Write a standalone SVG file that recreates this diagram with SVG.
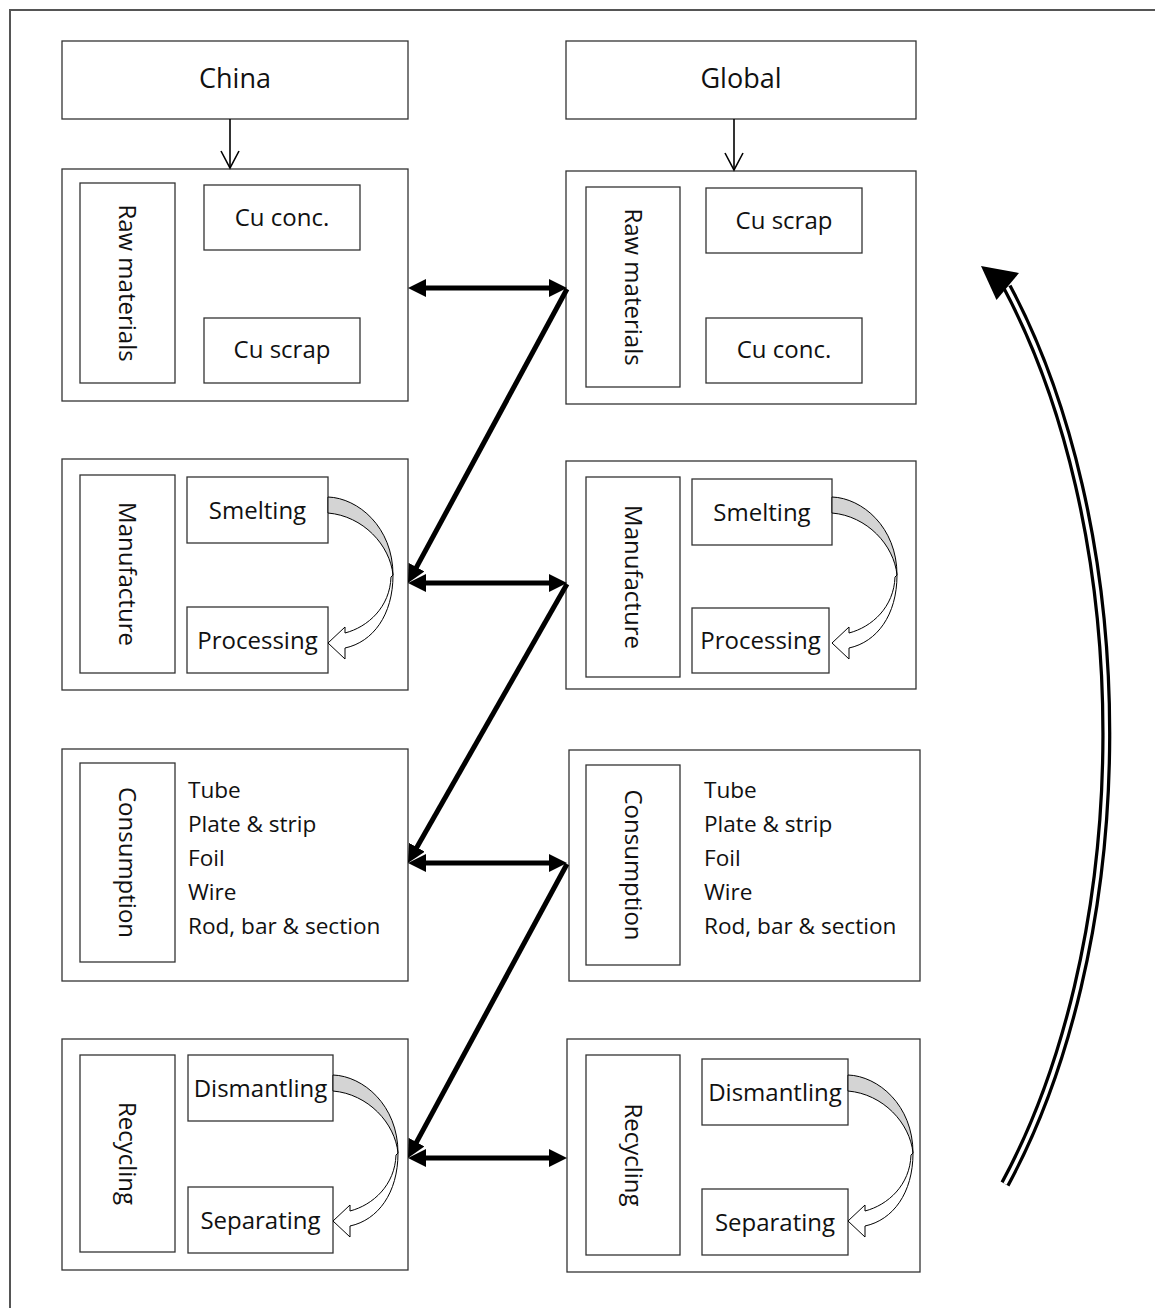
<svg xmlns="http://www.w3.org/2000/svg" width="1155" height="1308" viewBox="0 0 1155 1308">
<style>
.box{fill:#fff;stroke:#333;stroke-width:1.3}
.t{font-family:"Open Sans","Liberation Sans",sans-serif;font-size:24px;fill:#111;text-anchor:middle}
.ti{font-family:"Open Sans","Liberation Sans",sans-serif;font-size:27px;fill:#111;text-anchor:middle}
.l{font-family:"Open Sans","Liberation Sans",sans-serif;font-size:22.6px;fill:#111}
.con{stroke:#000;stroke-width:5;fill:none;marker-end:url(#ah)}
.dbl{marker-start:url(#ah)}
.thin{stroke:#000;stroke-width:1.6;fill:none;marker-end:url(#open)}
</style>
<defs>
<marker id="ah" viewBox="0 0 18 18" markerWidth="18" markerHeight="18" markerUnits="userSpaceOnUse" refX="6" refY="9" orient="auto-start-reverse"><path d="M0,0 L18,9 L0,18 Z" fill="#000"/></marker>
<marker id="open" viewBox="0 0 20 20" markerWidth="20" markerHeight="20" markerUnits="userSpaceOnUse" refX="18" refY="10" orient="auto"><path d="M1,1 L18,10 L1,19" fill="none" stroke="#000" stroke-width="1.6"/></marker>
<g id="curve">
<path d="M0,0 C30,1 65,30 65,78 C62,48 35,19 0,16 Z" fill="#d4d4d4" stroke="#000" stroke-width="1"/>
<path d="M65,78 C65,118 45,145 17,151 L17,162 L0,146 L17,130 L17,136 C40,130 62,110 63,80 Z" fill="#fff" stroke="#000" stroke-width="1"/>
</g>
</defs>
<rect width="1155" height="1308" fill="#fff"/>
<path d="M10,1308 L10,10 L1155,10" fill="none" stroke="#555" stroke-width="2"/>

<g id="china">
<rect class="box" x="62" y="41" width="346" height="78"/>
<text class="ti" x="235" y="88">China</text>
</g>
<g id="global">
<rect class="box" x="566" y="41" width="350" height="78"/>
<text class="ti" x="741" y="88">Global</text>
</g>

<g id="china-raw">
<rect class="box" x="62" y="169" width="346" height="232"/>
<rect class="box" x="80" y="183" width="95" height="200"/>
<text class="t" transform="translate(127.5,283) rotate(90)" y="8.5">Raw materials</text>
<rect class="box" x="204" y="185" width="156" height="65"/>
<text class="t" x="282" y="226">Cu conc.</text>
<rect class="box" x="204" y="318" width="156" height="65"/>
<text class="t" x="282" y="358">Cu scrap</text>
</g>
<g id="global-raw">
<rect class="box" x="566" y="171" width="350" height="233"/>
<rect class="box" x="586" y="187" width="94" height="200"/>
<text class="t" transform="translate(633,287) rotate(90)" y="8.5">Raw materials</text>
<rect class="box" x="706" y="188" width="156" height="65"/>
<text class="t" x="784" y="229">Cu scrap</text>
<rect class="box" x="706" y="318" width="156" height="65"/>
<text class="t" x="784" y="358">Cu conc.</text>
</g>

<g id="china-manufacture">
<rect class="box" x="62" y="459" width="346" height="231"/>
<rect class="box" x="80" y="475" width="95" height="198"/>
<text class="t" transform="translate(127.5,574) rotate(90)" y="8.5">Manufacture</text>
<rect class="box" x="187" y="477" width="141" height="66"/>
<text class="t" x="257.5" y="518.5">Smelting</text>
<rect class="box" x="187" y="607" width="141" height="66"/>
<text class="t" x="257.5" y="648.5">Processing</text>
<use href="#curve" x="328" y="497"/>
</g>
<g id="global-manufacture">
<rect class="box" x="566" y="461" width="350" height="228"/>
<rect class="box" x="586" y="477" width="94" height="200"/>
<text class="t" transform="translate(633,577) rotate(90)" y="8.5">Manufacture</text>
<rect class="box" x="692" y="479" width="140" height="66"/>
<text class="t" x="762" y="520.5">Smelting</text>
<rect class="box" x="692" y="608" width="137" height="65"/>
<text class="t" x="760.5" y="649">Processing</text>
<use href="#curve" x="832" y="497"/>
</g>

<g id="china-consumption">
<rect class="box" x="62" y="749" width="346" height="232"/>
<rect class="box" x="80" y="763" width="95" height="199"/>
<text class="t" transform="translate(127.5,862.5) rotate(90)" y="8.5">Consumption</text>
<text class="l" x="188" y="798">Tube</text>
<text class="l" x="188" y="832">Plate &amp; strip</text>
<text class="l" x="188" y="866">Foil</text>
<text class="l" x="188" y="900">Wire</text>
<text class="l" x="188" y="934">Rod, bar &amp; section</text>
</g>
<g id="global-consumption">
<rect class="box" x="569" y="750" width="351" height="231"/>
<rect class="box" x="586" y="765" width="94" height="200"/>
<text class="t" transform="translate(633,865) rotate(90)" y="8.5">Consumption</text>
<text class="l" x="704" y="798">Tube</text>
<text class="l" x="704" y="832">Plate &amp; strip</text>
<text class="l" x="704" y="866">Foil</text>
<text class="l" x="704" y="900">Wire</text>
<text class="l" x="704" y="934">Rod, bar &amp; section</text>
</g>

<g id="china-recycling">
<rect class="box" x="62" y="1039" width="346" height="231"/>
<rect class="box" x="80" y="1055" width="95" height="197"/>
<text class="t" transform="translate(127.5,1153.5) rotate(90)" y="8.5">Recycling</text>
<rect class="box" x="188" y="1055" width="145" height="66"/>
<text class="t" x="260.5" y="1096.5">Dismantling</text>
<rect class="box" x="188" y="1187" width="145" height="66"/>
<text class="t" x="260.5" y="1228.5">Separating</text>
<use href="#curve" x="333" y="1075"/>
</g>
<g id="global-recycling">
<rect class="box" x="567" y="1039" width="353" height="233"/>
<rect class="box" x="586" y="1055" width="94" height="200"/>
<text class="t" transform="translate(633,1155) rotate(90)" y="8.5">Recycling</text>
<rect class="box" x="702" y="1059" width="146" height="66"/>
<text class="t" x="775" y="1100.5">Dismantling</text>
<rect class="box" x="702" y="1189" width="146" height="66"/>
<text class="t" x="775" y="1230.5">Separating</text>
<use href="#curve" x="848" y="1075"/>
</g>

<g id="connectors">
<line class="thin" x1="230" y1="119" x2="230" y2="168"/>
<line class="thin" x1="734" y1="119" x2="734" y2="170"/>
<line class="con dbl" x1="420" y1="288" x2="555" y2="288"/>
<line class="con dbl" x1="420" y1="583" x2="555" y2="583"/>
<line class="con dbl" x1="420" y1="863" x2="555" y2="863"/>
<line class="con dbl" x1="420" y1="1158" x2="555" y2="1158"/>
<line class="con" x1="567" y1="289" x2="413.7" y2="572.4"/>
<line class="con" x1="567" y1="584" x2="413.9" y2="852.5"/>
<line class="con" x1="567" y1="864" x2="413.7" y2="1147.4"/>
<path d="M1005,1184 A350,640 0 0 0 1007,287" fill="none" stroke="#000" stroke-width="10"/>
<path d="M1005,1184 A350,640 0 0 0 1007,287" fill="none" stroke="#fff" stroke-width="3.5"/>
<polygon points="981,266 996.5,300 1019,273" fill="#000"/>
</g>
</svg>
